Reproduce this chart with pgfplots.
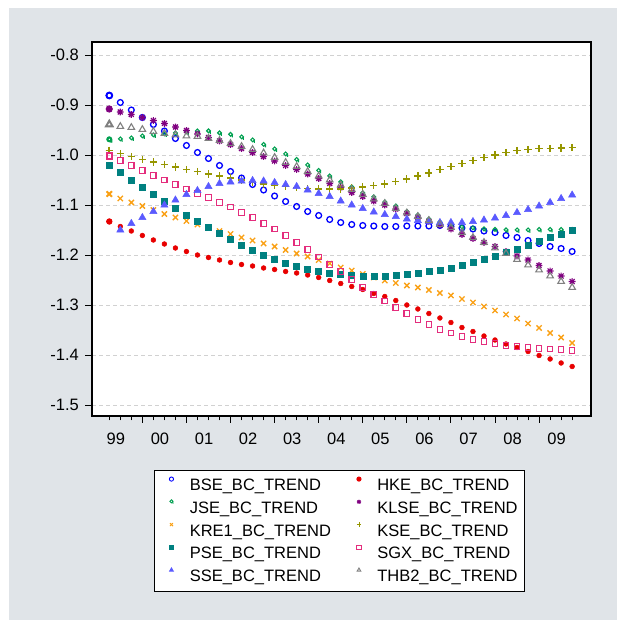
\documentclass[border=0pt]{standalone}
\usepackage{pgfplots}
\pgfplotsset{compat=1.18}
\usepackage{pgfplotstable}
\usepackage{fontspec}
\setmainfont{Liberation Sans}
\definecolor{bgpanel}{RGB}{224,228,232}
\definecolor{cbse}{RGB}{0,0,255}
\definecolor{chke}{RGB}{232,0,0}
\definecolor{cjse}{RGB}{0,160,80}
\definecolor{cklse}{RGB}{128,0,128}
\definecolor{ckre}{RGB}{250,160,20}
\definecolor{ckse}{RGB}{150,150,0}
\definecolor{cpse}{RGB}{0,128,128}
\definecolor{csgx}{RGB}{228,45,125}
\definecolor{csse}{RGB}{90,90,255}
\definecolor{cthb}{RGB}{128,128,128}
\pgfdeclareplotmark{qcirc}{%
  \pgfpathcircle{\pgfpoint{0pt}{0.25\pgfplotmarksize}}{0.75\pgfplotmarksize}%
  \pgfpathmoveto{\pgfpoint{0.75\pgfplotmarksize}{0.25\pgfplotmarksize}}%
  \pgfpathlineto{\pgfpoint{0.75\pgfplotmarksize}{-1.0\pgfplotmarksize}}%
  \pgfusepathqstroke}
\pgfdeclareplotmark{star8}{%
  \pgfpathmoveto{\pgfpoint{-\pgfplotmarksize}{0pt}}\pgfpathlineto{\pgfpoint{\pgfplotmarksize}{0pt}}%
  \pgfpathmoveto{\pgfpoint{0pt}{-\pgfplotmarksize}}\pgfpathlineto{\pgfpoint{0pt}{\pgfplotmarksize}}%
  \pgfpathmoveto{\pgfpoint{-0.72\pgfplotmarksize}{-0.72\pgfplotmarksize}}\pgfpathlineto{\pgfpoint{0.72\pgfplotmarksize}{0.72\pgfplotmarksize}}%
  \pgfpathmoveto{\pgfpoint{-0.72\pgfplotmarksize}{0.72\pgfplotmarksize}}\pgfpathlineto{\pgfpoint{0.72\pgfplotmarksize}{-0.72\pgfplotmarksize}}%
  \pgfusepathqstroke}
\pgfplotsset{leg/.style={legend image code/.code={%
  \path (-10pt,0pt) (8pt,0pt);
  \draw[##1,mark size=2.1pt,line width=0.9pt] plot coordinates {(0pt,5.9pt)};}},
  first/.style={forget plot, skip coords between index={1}{60}, line width=1.9pt}}
\pgfplotstableread{
x bse hke jse klse kre kse pse sgx sse thb
1999.25 -0.881 -1.133 -0.970 -0.908 -1.078 -0.991 -1.020 -1.002 nan -0.939
1999.50 -0.895 -1.143 -0.969 -0.914 -1.087 -0.997 -1.035 -1.011 -1.150 -0.943
1999.75 -0.910 -1.152 -0.967 -0.919 -1.095 -1.003 -1.050 -1.021 -1.137 -0.945
2000.00 -0.925 -1.161 -0.963 -0.925 -1.102 -1.009 -1.065 -1.031 -1.125 -0.949
2000.25 -0.939 -1.170 -0.961 -0.931 -1.110 -1.014 -1.079 -1.041 -1.113 -0.953
2000.50 -0.952 -1.178 -0.959 -0.937 -1.118 -1.019 -1.093 -1.050 -1.100 -0.957
2000.75 -0.967 -1.186 -0.957 -0.944 -1.125 -1.024 -1.107 -1.059 -1.090 -0.960
2001.00 -0.981 -1.193 -0.955 -0.951 -1.132 -1.029 -1.120 -1.068 -1.079 -0.962
2001.25 -0.995 -1.200 -0.953 -0.958 -1.139 -1.033 -1.132 -1.077 -1.071 -0.963
2001.50 -1.007 -1.205 -0.953 -0.965 -1.146 -1.038 -1.145 -1.085 -1.063 -0.967
2001.75 -1.021 -1.210 -0.957 -0.972 -1.152 -1.042 -1.157 -1.095 -1.057 -0.971
2002.00 -1.033 -1.215 -0.960 -0.979 -1.158 -1.046 -1.169 -1.104 -1.054 -0.977
2002.25 -1.046 -1.219 -0.965 -0.987 -1.165 -1.050 -1.180 -1.115 -1.052 -0.983
2002.50 -1.059 -1.222 -0.971 -0.995 -1.171 -1.054 -1.191 -1.125 -1.051 -0.989
2002.75 -1.070 -1.226 -0.980 -1.003 -1.177 -1.058 -1.200 -1.137 -1.052 -0.996
2003.00 -1.082 -1.229 -0.989 -1.012 -1.183 -1.061 -1.209 -1.148 -1.055 -1.005
2003.25 -1.093 -1.233 -0.999 -1.021 -1.190 -1.063 -1.216 -1.161 -1.059 -1.015
2003.50 -1.103 -1.236 -1.010 -1.029 -1.197 -1.065 -1.223 -1.175 -1.063 -1.023
2003.75 -1.113 -1.240 -1.021 -1.038 -1.203 -1.067 -1.228 -1.189 -1.070 -1.033
2004.00 -1.121 -1.245 -1.032 -1.047 -1.210 -1.068 -1.233 -1.204 -1.077 -1.042
2004.25 -1.129 -1.251 -1.043 -1.057 -1.217 -1.068 -1.237 -1.219 -1.083 -1.050
2004.50 -1.135 -1.257 -1.055 -1.065 -1.225 -1.068 -1.238 -1.233 -1.092 -1.060
2004.75 -1.139 -1.263 -1.065 -1.075 -1.231 -1.066 -1.240 -1.249 -1.100 -1.069
2005.00 -1.141 -1.269 -1.077 -1.083 -1.238 -1.064 -1.242 -1.265 -1.107 -1.079
2005.25 -1.142 -1.277 -1.085 -1.092 -1.245 -1.061 -1.242 -1.279 -1.114 -1.088
2005.50 -1.143 -1.283 -1.095 -1.100 -1.251 -1.058 -1.242 -1.292 -1.119 -1.097
2005.75 -1.143 -1.291 -1.103 -1.108 -1.256 -1.053 -1.241 -1.305 -1.123 -1.107
2006.00 -1.142 -1.300 -1.114 -1.117 -1.261 -1.048 -1.239 -1.317 -1.128 -1.116
2006.25 -1.142 -1.308 -1.121 -1.125 -1.265 -1.042 -1.236 -1.329 -1.131 -1.123
2006.50 -1.142 -1.317 -1.129 -1.133 -1.270 -1.036 -1.233 -1.339 -1.133 -1.131
2006.75 -1.141 -1.326 -1.135 -1.140 -1.276 -1.029 -1.231 -1.349 -1.135 -1.139
2007.00 -1.143 -1.335 -1.140 -1.148 -1.281 -1.023 -1.227 -1.356 -1.135 -1.145
2007.25 -1.146 -1.345 -1.145 -1.159 -1.288 -1.017 -1.221 -1.363 -1.135 -1.155
2007.50 -1.148 -1.353 -1.147 -1.167 -1.295 -1.011 -1.215 -1.369 -1.133 -1.165
2007.75 -1.152 -1.362 -1.149 -1.175 -1.303 -1.005 -1.209 -1.373 -1.130 -1.175
2008.00 -1.155 -1.370 -1.150 -1.183 -1.311 -1.000 -1.203 -1.377 -1.126 -1.186
2008.25 -1.161 -1.378 -1.151 -1.193 -1.319 -0.995 -1.195 -1.381 -1.121 -1.197
2008.50 -1.165 -1.385 -1.151 -1.202 -1.327 -0.991 -1.188 -1.383 -1.115 -1.209
2008.75 -1.171 -1.393 -1.151 -1.210 -1.337 -0.989 -1.180 -1.385 -1.109 -1.220
2009.00 -1.177 -1.401 -1.150 -1.221 -1.346 -0.987 -1.173 -1.387 -1.102 -1.230
2009.25 -1.183 -1.408 -1.150 -1.232 -1.356 -0.987 -1.165 -1.388 -1.095 -1.242
2009.50 -1.187 -1.416 -1.150 -1.242 -1.365 -0.986 -1.158 -1.389 -1.087 -1.253
2009.75 -1.193 -1.423 -1.150 -1.253 -1.376 -0.985 -1.151 -1.391 -1.080 -1.265
}\data
\begin{document}
\begin{tikzpicture}[x=1pt,y=1pt]
\useasboundingbox (0,0) rectangle (617,620);
\fill[white] (0,0) rectangle (617,620);
\fill[bgpanel] (9,0) rectangle (617,612);
\begin{axis}[
  at={(92pt,204pt)}, anchor=south west,
  scale only axis, width=499pt, height=374pt,
  xmin=1998.8575, xmax=2010.178, ymin=-1.522, ymax=-0.774,
  axis background/.style={fill=white},
  axis line style={black,line width=1.1pt},
  tick align=outside, tick pos=left,
  xtick={2000,...,2009}, xticklabels={},
  minor xtick={1999.25,1999.5,...,2009.75},
  major tick length=7pt, minor tick length=4.5pt,
  every tick/.style={black,line width=0.9pt},
  ytick={-1.5,-1.4,-1.3,-1.2,-1.1,-1.0,-0.9,-0.8},
  yticklabels={-1.5,-1.4,-1.3,-1.2,-1.1,-1.0,-0.9,-0.8},
  extra x ticks={1999.4,2000.4,...,2009.4},
  extra x tick labels={99,00,01,02,03,04,05,06,07,08,09},
  extra x tick style={major tick length=0pt, xmajorgrids=false,
     xticklabel style={anchor=base, inner sep=0pt, yshift=-28.3pt}},
  ymajorgrids,
  major grid style={draw=black!18, dash pattern=on 4pt off 3pt, line width=0.8pt},
  tick label style={font=\fontsize{16.5}{19}\selectfont},
  yticklabel style={anchor=east, inner sep=0pt, xshift=-6pt},
  legend columns=2,
  legend cell align=left,
  legend style={
    at={(axis description cs:0.4954,-0.3061)}, anchor=center,
    draw=black, line width=0.8pt, fill=white,
    font=\fontsize{16.5}{19}\selectfont,
    inner xsep=6.6pt, inner ysep=7pt,
    row sep=6.75pt,
    nodes={inner sep=0pt, text height=13.7pt, text depth=2.3pt},
    /tikz/every odd column/.append style={column sep=9.7pt},
    /tikz/every even column/.append style={column sep=17.3pt},
  },
]
\addplot[only marks, mark=o, cbse, mark size=2.9pt, line width=1.3pt, leg] table[x=x,y=bse] {\data};
\addlegendentry{BSE\_BC\_TREND}
\addplot[only marks, mark=*, chke, mark size=2.4pt, line width=0.5pt, leg] table[x=x,y=hke] {\data};
\addlegendentry{HKE\_BC\_TREND}
\addplot[only marks, mark=qcirc, cjse, mark size=2.5pt, line width=1.1pt, leg] table[x=x,y=jse] {\data};
\addlegendentry{JSE\_BC\_TREND}
\addplot[only marks, mark=star8, cklse, mark size=3.4pt, line width=1.2pt, leg] table[x=x,y=klse] {\data};
\addlegendentry{KLSE\_BC\_TREND}
\addplot[only marks, mark=x, ckre, mark size=3.7pt, line width=1.3pt, leg] table[x=x,y=kre] {\data};
\addlegendentry{KRE1\_BC\_TREND}
\addplot[only marks, mark=+, ckse, mark size=3.6pt, line width=1.3pt, leg] table[x=x,y=kse] {\data};
\addlegendentry{KSE\_BC\_TREND}
\addplot[only marks, mark=square*, cpse, mark size=3.0pt, line width=0.5pt, leg] table[x=x,y=pse] {\data};
\addlegendentry{PSE\_BC\_TREND}
\addplot[only marks, mark=square, csgx, mark size=2.7pt, line width=1.3pt, leg] table[x=x,y=sgx] {\data};
\addlegendentry{SGX\_BC\_TREND}
\addplot[only marks, mark=triangle*, csse, mark size=4.1pt, line width=0.5pt, leg] table[x=x,y=sse] {\data};
\addlegendentry{SSE\_BC\_TREND}
\addplot[only marks, mark=triangle, cthb, mark size=3.8pt, line width=1.1pt, leg] table[x=x,y=thb] {\data};
\addlegendentry{THB2\_BC\_TREND}
% heavier first observation, as drawn in the reference
\addplot[only marks, mark=o, cbse, mark size=2.9pt, first] table[x=x,y=bse] {\data};
\addplot[only marks, mark=*, chke, mark size=2.9pt, first, line width=0.5pt] table[x=x,y=hke] {\data};
\addplot[only marks, mark=qcirc, cjse, mark size=2.7pt, first] table[x=x,y=jse] {\data};
\addplot[only marks, mark=star8, cklse, mark size=3.4pt, first] table[x=x,y=klse] {\data};
\addplot[only marks, mark=x, ckre, mark size=3.7pt, first] table[x=x,y=kre] {\data};
\addplot[only marks, mark=+, ckse, mark size=3.6pt, first] table[x=x,y=kse] {\data};
\addplot[only marks, mark=square*, cpse, mark size=3.2pt, first, line width=0.5pt] table[x=x,y=pse] {\data};
\addplot[only marks, mark=square, csgx, mark size=2.7pt, first] table[x=x,y=sgx] {\data};
\addplot[only marks, mark=triangle, cthb, mark size=3.8pt, first] table[x=x,y=thb] {\data};
\end{axis}
\end{tikzpicture}
\end{document}
